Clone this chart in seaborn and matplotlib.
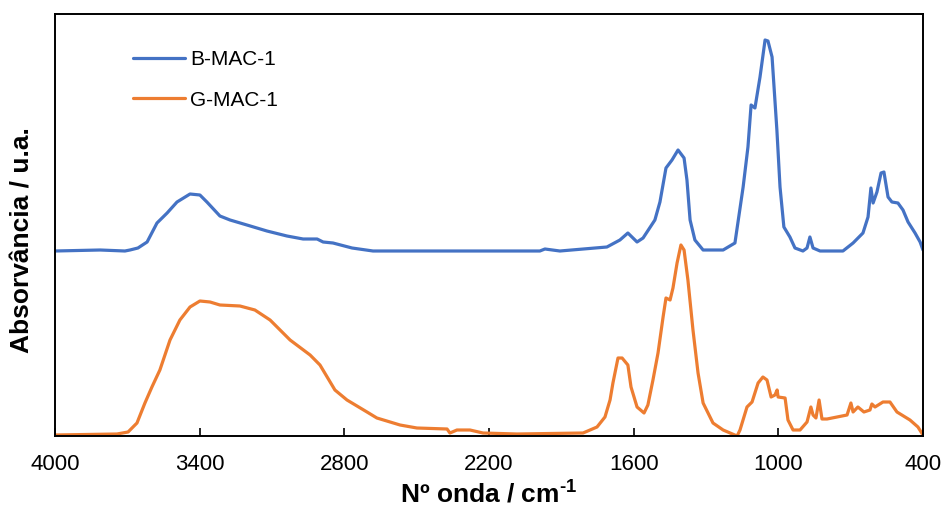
import matplotlib
matplotlib.use("Agg")
import matplotlib.pyplot as plt
import seaborn as sns
import pandas as pd

# FTIR spectra (wavenumber in cm-1, absorbance in a.u.)
bmac_wn = [4000, 3813, 3710, 3689, 3656, 3618, 3577, 3535, 3494, 3440, 3399, 3370, 3316, 3274,
           3204, 3121, 3038, 2971, 2913, 2888, 2847, 2768, 2681, 2474, 1989, 1968, 1906, 1711,
           1657, 1624, 1586, 1561, 1512, 1491, 1466, 1441, 1416, 1391, 1379, 1366, 1346, 1312,
           1229, 1180, 1146, 1126, 1113, 1097, 1076, 1055, 1043, 1026, 1006, 993, 977, 952, 931,
           898, 881, 869, 856, 827, 732, 690, 649, 628, 616, 607, 591, 574, 562, 545, 529, 504,
           483, 462, 433, 412, 400]
bmac_abs = [1.85, 1.86, 1.85, 1.86, 1.88, 1.94, 2.13, 2.23, 2.34, 2.42, 2.41, 2.34, 2.20, 2.16,
            2.11, 2.05, 2.00, 1.97, 1.97, 1.94, 1.93, 1.88, 1.85, 1.85, 1.85, 1.87, 1.85, 1.89,
            1.96, 2.03, 1.94, 1.98, 2.16, 2.34, 2.68, 2.76, 2.86, 2.78, 2.56, 2.16, 1.96, 1.86,
            1.86, 1.93, 2.49, 2.89, 3.31, 3.28, 3.59, 3.96, 3.95, 3.79, 3.06, 2.49, 2.09, 1.99, 1.88,
            1.85, 1.88, 1.99, 1.88, 1.85, 1.85, 1.93, 2.03, 2.19, 2.48, 2.33, 2.44, 2.63, 2.64, 2.39,
            2.34, 2.33, 2.26, 2.14, 2.03, 1.94, 1.86]

gmac_wn = [4000, 3743, 3697, 3660, 3627, 3598, 3565, 3523, 3482, 3440, 3399, 3357, 3316, 3233,
           3171, 3108, 3025, 2942, 2901, 2839, 2789, 2706, 2665, 2569, 2499, 2374, 2362, 2333,
           2279, 2225, 2084, 1810, 1752, 1719, 1698, 1686, 1665, 1648, 1624, 1611, 1586, 1557,
           1541, 1520, 1499, 1478, 1466, 1449, 1437, 1420, 1404, 1391, 1375, 1354, 1333, 1312,
           1271, 1229, 1171, 1159, 1130, 1109, 1084, 1064, 1047, 1030, 1014, 1005, 1001, 972, 960,
           939, 910, 881, 865, 856, 844, 831, 819, 798, 715, 699, 690, 670, 645, 620, 612, 599,
           566, 537, 508, 454, 421, 400]
gmac_abs = [0.01, 0.02, 0.04, 0.13, 0.33, 0.49, 0.66, 0.96, 1.16, 1.29, 1.35, 1.34, 1.31, 1.30,
            1.26, 1.16, 0.96, 0.81, 0.71, 0.46, 0.36, 0.24, 0.18, 0.11, 0.08, 0.07, 0.03, 0.06,
            0.06, 0.03, 0.02, 0.03, 0.09, 0.19, 0.36, 0.53, 0.78, 0.78, 0.71, 0.49, 0.29, 0.23,
            0.31, 0.56, 0.83, 1.19, 1.38, 1.36, 1.48, 1.73, 1.91, 1.86, 1.56, 1.06, 0.63, 0.33,
            0.13, 0.06, 0.00, 0.06, 0.29, 0.34, 0.53, 0.59, 0.56, 0.39, 0.41, 0.46, 0.39, 0.38, 0.16,
            0.06, 0.06, 0.14, 0.29, 0.21, 0.18, 0.36, 0.17, 0.17, 0.21, 0.33, 0.24, 0.29, 0.24, 0.26,
            0.32, 0.29, 0.34, 0.34, 0.24, 0.16, 0.09, 0.01]

series_names = ["B-MAC-1", "G-MAC-1"]
series_colors = ["#4472C4", "#ED7D31"]
xticks = [4000, 3400, 2800, 2200, 1600, 1000, 400]

sns.set_theme(style="white")
plt.rcParams['font.family'] = ['Liberation Sans', 'DejaVu Sans']
plt.rcParams['text.color'] = 'black'
plt.rcParams['axes.labelcolor'] = 'black'
plt.rcParams['mathtext.fontset'] = 'custom'
plt.rcParams['mathtext.rm'] = 'Liberation Sans:bold'
plt.rcParams['mathtext.bf'] = 'Liberation Sans:bold'

df_b = pd.DataFrame({'wn': bmac_wn, 'abs': bmac_abs})
df_g = pd.DataFrame({'wn': gmac_wn, 'abs': gmac_abs})

fig = plt.figure(figsize=(9.46, 5.15), dpi=100)
ax = fig.add_axes([55 / 946, 79 / 515, 868 / 946, 422 / 515])

sns.lineplot(data=df_b, x='wn', y='abs', color=series_colors[0], linewidth=2.3,
             label=series_names[0], ax=ax)
sns.lineplot(data=df_g, x='wn', y='abs', color=series_colors[1], linewidth=2.3,
             label=series_names[1], ax=ax)

ax.set_xlim(4000, 400)
ax.set_ylim(0, 4.22)
ax.set_xticks(xticks)
ax.set_yticks([])
ax.tick_params(axis='x', direction='in', length=6, width=1.2, colors='black',
               labelsize=16, pad=13, bottom=True)
for s in ax.spines.values():
    s.set_color('black')
    s.set_linewidth(1.4)

ax.set_xlabel(r"Nº onda / cm$^{\text{-1}}$", fontsize=19, fontweight='bold', labelpad=3)
ax.set_ylabel("Absorvância / u.a.", fontsize=19, fontweight='bold')
ax.yaxis.set_label_coords(-0.024, 0.465)

leg = ax.legend(loc='upper left', bbox_to_anchor=(0.09, 0.915), frameon=False, fontsize=15,
                handlelength=2.5, handletextpad=0.25, labelspacing=1.05, borderpad=0,
                borderaxespad=0)
for t in leg.get_texts():
    t.set_color('black')

fig.savefig('out.png', dpi=100)
